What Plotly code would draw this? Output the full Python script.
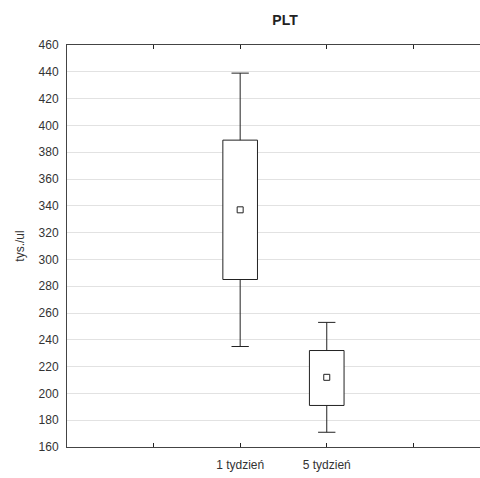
import plotly.graph_objects as go

categories = ["1 tydzień", "5 tydzień"]
cat_pos = [1, 2]
medians = [337, 212]
q1 = [285, 191]
q3 = [389, 232]
mins = [235, 171]
maxs = [439, 253]
y_ticks = list(range(160, 461, 20))

box_h = [b - a for a, b in zip(q1, q3)]
up_len = [b - a for a, b in zip(q3, maxs)]
down_len = [a - b for a, b in zip(q1, mins)]
zeros = [0 for _ in cat_pos]
cap_half = [0.1 for _ in cat_pos]
ink = "#222222"

fig = go.Figure()
# whisker stems (no caps)
fig.add_trace(go.Scatter(
    x=cat_pos, y=q3, mode="markers", marker=dict(size=1, opacity=0),
    error_y=dict(type="data", symmetric=False, array=up_len, arrayminus=zeros,
                 width=0, thickness=1, color=ink),
    showlegend=False, hoverinfo="skip",
))
fig.add_trace(go.Scatter(
    x=cat_pos, y=q1, mode="markers", marker=dict(size=1, opacity=0),
    error_y=dict(type="data", symmetric=False, array=zeros, arrayminus=down_len,
                 width=0, thickness=1, color=ink),
    showlegend=False, hoverinfo="skip",
))
# whisker caps
for yv in (maxs, mins):
    fig.add_trace(go.Scatter(
        x=cat_pos, y=yv, mode="markers", marker=dict(size=1, opacity=0),
        error_x=dict(type="data", array=cap_half, width=0, thickness=1, color=ink),
        showlegend=False, hoverinfo="skip",
    ))
# boxes
fig.add_trace(go.Bar(
    x=cat_pos, y=box_h, base=q1, width=0.4,
    marker=dict(color="white", line=dict(color=ink, width=1)),
    showlegend=False, hoverinfo="skip",
))
# medians
fig.add_trace(go.Scatter(
    x=cat_pos, y=medians, mode="markers",
    marker=dict(symbol="square", size=6, color="white",
                line=dict(color=ink, width=1)),
    showlegend=False,
))

font = dict(family="Liberation Sans, Arial, sans-serif", size=12, color="#333333")
fig.update_layout(
    width=480, height=478,
    margin=dict(l=67, r=0, t=45, b=31),
    paper_bgcolor="white", plot_bgcolor="white",
    font=font, barmode="overlay",
    title=dict(text="<b>PLT</b>", x=285/480, xanchor="center", y=1-20/478,
               yanchor="middle", font=dict(size=14, color=ink,
                                           family="Liberation Sans, Arial, sans-serif")),
    xaxis=dict(range=[-1, 3.77], tickvals=[0, 1, 2, 3],
               ticktext=["", categories[0], categories[1], ""],
               showgrid=False, showline=True, linecolor="#444444", linewidth=1,
               mirror="ticks", ticks="inside", ticklen=4, tickcolor=ink,
               zeroline=False, ticklabelstandoff=7),
    yaxis=dict(range=[160, 460], tickvals=y_ticks, showgrid=True,
               gridcolor="#e2e2e2", gridwidth=1, showline=True,
               linecolor="#444444", linewidth=1, ticks="", zeroline=False,
               ticklabelstandoff=5,
               title=dict(text="tys./ul", standoff=11, font=dict(size=12))),
)
fig.write_html("out.html")
